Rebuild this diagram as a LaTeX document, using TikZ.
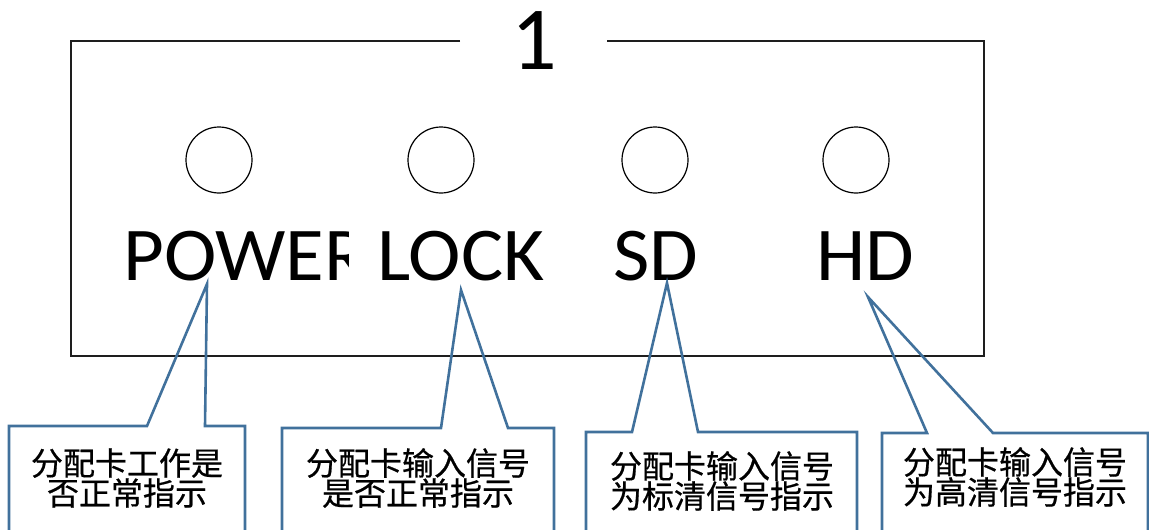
\documentclass[tikz,border=0pt]{standalone}
\usepackage{fontspec}
\setmainfont{Carlito}
\newfontfamily\latinwide{Carlito}[FakeStretch=1.04]
\newfontfamily\cjk{Noto Sans CJK SC}[FakeBold=0.6]
\definecolor{callblue}{RGB}{65,113,156}
\definecolor{frameblack}{RGB}{30,30,30}
\tikzset{
  frame/.style={draw=frameblack, line width=1.8pt},
  led/.style={draw=black, line width=1.2pt, circle, minimum size=66pt, inner sep=0pt},
  biglabel/.style={font=\latinwide\fontsize{76}{76}\selectfont, anchor=base west, inner sep=0pt, text=black},
  callout/.style={draw=callblue, line width=2.6pt, line join=miter},
  calltext/.style={font=\cjk\fontsize{32}{30}\selectfont, align=center, inner sep=0pt, text=black}
}
\begin{document}
\begin{tikzpicture}[x=1pt,y=-1pt]
\useasboundingbox (0,0) rectangle (1149,530);
\clip (0,0) rectangle (1149,530);
% panel frame
\coordinate (tl) at (71,41);
\coordinate (tr) at (984,41);
\coordinate (bl) at (71,356);
\coordinate (br) at (984,356);
\coordinate (gapL) at (460,41);
\coordinate (gapR) at (607,41);
\draw[frame] (gapL) -- (tl) -- (bl) -- (br) -- (tr) -- (gapR);
\node[font=\fontsize{90}{90}\selectfont, inner sep=0pt] (title) at (534,41) {1};
% LEDs
\node[led] (c1) at (219,160) {};
\node[led] (c2) at (441,160) {};
\node[led] (c3) at (655,160) {};
\node[led] (c4) at (856,160) {};
% labels
\begin{scope}
\clip (100,200) rectangle (348,300);
\node[biglabel] (pw) at (123,280) {POWER};
\end{scope}
\node[biglabel] (lk) at (377,280) {LOCK};
\node[biglabel] (sd) at (613,280) {SD};
\node[biglabel] (hd) at (816,280) {HD};
% callout tips
\coordinate (t1) at (207,284);
\coordinate (t2) at (461,290);
\coordinate (t3) at (667,283);
\coordinate (t4) at (868,297);
% callouts
\draw[callout] (9,545) -- (9,426) -- (147,426) -- (t1) -- (205,426) -- (245,426) -- (245,545);
\draw[callout] (282,545) -- (282,428) -- (441,428) -- (t2) -- (508,428) -- (554,428) -- (554,545);
\draw[callout] (586,545) -- (586,432) -- (632,432) -- (t3) -- (698,432) -- (857,432) -- (857,545);
\draw[callout] (882,545) -- (882,433) -- (927,433) -- (t4) -- (993,433) -- (1148,433) -- (1148,545);
% callout texts
\node[calltext] (k1) at (127,478) {分配卡工作是\\否正常指示};
\node[calltext] (k2) at (418,478) {分配卡输入信号\\是否正常指示};
\node[calltext] (k3) at (722,481) {分配卡输入信号\\为标清信号指示};
\node[calltext] (k4) at (1015,477) {分配卡输入信号\\为高清信号指示};
\end{tikzpicture}
\end{document}
